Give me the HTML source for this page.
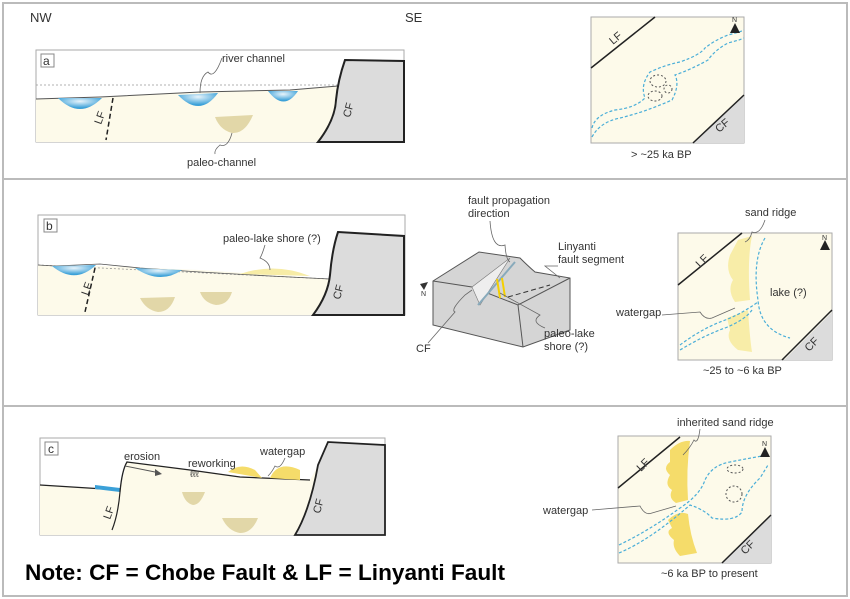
<!DOCTYPE html>
<html><head><meta charset="utf-8"><style>
html,body{margin:0;padding:0;background:#fff}
svg{display:block}
text{font-family:"Liberation Sans",Arial,sans-serif;fill:#333}
</style></head><body>
<svg width="850" height="599" viewBox="0 0 850 599" xmlns="http://www.w3.org/2000/svg">
<defs>
<radialGradient id="w" cx="50%" cy="30%" r="60%"><stop offset="0" stop-color="#e8f4fb"/><stop offset="1" stop-color="#3aa0d8"/></radialGradient>
</defs>
<rect x="3" y="3" width="844" height="593" fill="none" stroke="#bbb" stroke-width="2"/>
<line x1="3" y1="179" x2="847" y2="179" stroke="#bbb" stroke-width="2"/>
<line x1="3" y1="406" x2="847" y2="406" stroke="#bbb" stroke-width="2"/>

<!-- Panel a -->
<text x="30" y="22" font-size="13">NW</text>
<text x="405" y="22" font-size="13">SE</text>
<rect x="36" y="50" width="368" height="92" fill="#fff" stroke="#aaa"/>
<path d="M36,99 L100,97 L200,92 L290,90 L338,86 L346,86 L349,142 L36,142Z" fill="#fdfaea"/>
<line x1="36" y1="85" x2="338" y2="85" stroke="#999" stroke-dasharray="2,2" stroke-width="0.8"/>
<path d="M36,99 L100,97 L200,92 L290,90 L338,86" fill="none" stroke="#555" stroke-width="1"/>
<path d="M58,98 Q80,120 102,98Z" fill="url(#w)"/>
<path d="M178,95 Q200,118 218,93Z" fill="url(#w)"/>
<path d="M268,91 Q284,112 298,91Z" fill="url(#w)"/>
<path d="M215,117 L253,115 Q245,134 232,133 Q220,130 215,117Z" fill="#e2d7a8"/>
<path d="M345,60 L404,61 L404,142 L318,142 Q335,120 336,100 Q338,80 345,60Z" fill="#dcdcdc" stroke="#222" stroke-width="2"/>
<path d="M113,98 L106,140" stroke="#222" stroke-width="1.5" stroke-dasharray="5,3"/>
<text x="0" y="0" font-size="11" transform="translate(101,125) rotate(-70)">LF</text>
<text x="0" y="0" font-size="11" transform="translate(350,118) rotate(-75)">CF</text>
<rect x="41" y="54" width="13" height="13" fill="#fff" stroke="#888"/>
<text x="43" y="65" font-size="12">a</text>
<text x="222" y="62" font-size="11">river channel</text>
<path d="M222,58 Q214,80 208,72 Q200,76 200,93" fill="none" stroke="#666" stroke-width="0.8"/>
<text x="187" y="166" font-size="11">paleo-channel</text>
<path d="M232,133 Q228,148 220,145 Q214,150 215,154" fill="none" stroke="#666" stroke-width="0.8"/>
<!-- map a -->
<rect x="591" y="17" width="153" height="126" fill="#fdfaea" stroke="#aaa"/>
<line x1="591" y1="68" x2="655" y2="17" stroke="#222" stroke-width="1.5"/>
<path d="M693,143 L744,95 L744,143Z" fill="#dcdcdc"/>
<line x1="693" y1="143" x2="744" y2="95" stroke="#222" stroke-width="1.5"/>
<text x="0" y="0" font-size="11" transform="translate(613,45) rotate(-40)">LF</text>
<text x="0" y="0" font-size="11" transform="translate(719,133) rotate(-40)">CF</text>
<path d="M592,128 Q595,115 615,110 Q635,108 645,98 Q640,85 650,72 Q665,65 680,62 Q700,55 705,48 Q715,40 728,35 Q740,32 744,30" fill="none" stroke="#4aaed8" stroke-dasharray="3,2" stroke-width="1.2"/>
<path d="M592,137 Q600,122 620,118 Q645,112 672,100 Q680,85 675,75 Q690,70 708,60 Q715,50 728,43 Q740,40 744,38" fill="none" stroke="#4aaed8" stroke-dasharray="3,2" stroke-width="1.2"/>
<ellipse cx="658" cy="81" rx="8" ry="6" fill="none" stroke="#555" stroke-dasharray="2,2"/>
<ellipse cx="668" cy="89" rx="4" ry="4" fill="none" stroke="#555" stroke-dasharray="2,2"/>
<ellipse cx="655" cy="96" rx="7" ry="5" fill="none" stroke="#555" stroke-dasharray="2,2"/>
<polygon points="735,23 730,33 740,33" fill="#222"/><text x="732" y="22" font-size="7">N</text>
<text x="631" y="158" font-size="11">&gt; ~25 ka BP</text>

<!-- Panel b -->
<rect x="38" y="215" width="367" height="100" fill="#fff" stroke="#aaa"/>
<path d="M38,265 L100,266 L200,270 L330,279 L337,279 L332,315 L38,315Z" fill="#fdfaea"/>
<line x1="38" y1="265" x2="330" y2="279" stroke="#999" stroke-dasharray="2,2" stroke-width="0.8"/>
<path d="M38,265 L55,266 L100,264 L140,268 L200,272 L270,276 L330,279" fill="none" stroke="#555" stroke-width="0.8"/>
<path d="M52,266 Q75,285 96,265Z" fill="url(#w)"/>
<path d="M135,268 Q160,285 182,270Z" fill="url(#w)"/>
<path d="M240,274 Q275,262 310,276Z" fill="#f7eca6"/>
<path d="M140,298 L175,297 Q170,312 158,312 Q146,310 140,298Z" fill="#e2d7a8"/>
<path d="M200,292 L232,292 Q228,305 216,305 Q204,303 200,292Z" fill="#e2d7a8"/>
<path d="M338,232 L404,236 L404,315 L313,315 Q328,295 330,275 Q332,250 338,232Z" fill="#dcdcdc" stroke="#222" stroke-width="2"/>
<path d="M95,268 L85,312" stroke="#222" stroke-width="1.5" stroke-dasharray="5,3"/>
<text x="0" y="0" font-size="11" transform="translate(88,296) rotate(-70)">LF</text>
<text x="0" y="0" font-size="11" transform="translate(340,300) rotate(-75)">CF</text>
<rect x="44" y="219" width="13" height="13" fill="#fff" stroke="#888"/>
<text x="46" y="230" font-size="12">b</text>
<text x="223" y="242" font-size="11">paleo-lake shore (?)</text>
<path d="M265,245 Q262,255 260,258 Q270,262 270,270" fill="none" stroke="#666" stroke-width="0.8"/>
<!-- block diagram -->
<path d="M433,281 L479,252 L520,258 Q528,266 535,272 L570,278 L570,330 L523,347 L433,325Z" fill="#d5d5d5" stroke="#555"/>
<path d="M433,281 L472,287 L518,305 L570,278" fill="none" stroke="#555"/>
<path d="M518,305 L523,347" stroke="#555"/>
<path d="M472,287 L510,258 L480,305Z" fill="#eee" stroke="#777" stroke-width="0.6"/>
<line x1="478" y1="305" x2="515" y2="262" stroke="#8ab" stroke-width="2"/>
<path d="M497,279 L500,298 M502,278 L505,297" stroke="#f5d000" stroke-width="2"/>
<path d="M508,297 L550,285" stroke="#333" stroke-dasharray="5,3"/>
<text x="468" y="204" font-size="11">fault propagation</text>
<text x="468" y="217" font-size="11">direction</text>
<path d="M490,221 Q492,250 505,245 Q506,260 510,262" fill="none" stroke="#666" stroke-width="0.8"/>
<text x="558" y="250" font-size="11">Linyanti</text>
<text x="558" y="263" font-size="11">fault segment</text>
<path d="M558,266 L545,266 Q555,274 560,278" fill="none" stroke="#666" stroke-width="0.8"/>
<text x="544" y="337" font-size="11">paleo-lake</text>
<text x="544" y="350" font-size="11">shore (?)</text>
<path d="M500,293 L540,315 Q530,322 545,328" fill="none" stroke="#666" stroke-width="0.8"/>
<text x="416" y="352" font-size="11">CF</text>
<path d="M428,343 L455,312 Q450,310 465,295 L472,290" fill="none" stroke="#666" stroke-width="0.8"/>
<polygon points="420,284 428,282 424,290" fill="#333"/><text x="421" y="296" font-size="7">N</text>
<!-- map b -->
<rect x="678" y="233" width="154" height="127" fill="#fdfaea" stroke="#aaa"/>
<line x1="678" y1="285" x2="742" y2="233" stroke="#222" stroke-width="1.5"/>
<path d="M784,360 L832,312 L832,360Z" fill="#dcdcdc"/>
<line x1="782" y1="360" x2="832" y2="310" stroke="#222" stroke-width="1.5"/>
<text x="0" y="0" font-size="11" transform="translate(700,268) rotate(-45)">LF</text>
<text x="0" y="0" font-size="11" transform="translate(809,352) rotate(-45)">CF</text>
<path d="M738,240 L752,236 Q747,260 750,300 L735,302 Q727,290 733,280 Q725,270 730,255Z" fill="#f8eda8"/>
<path d="M727,318 L748,310 Q750,340 752,352 L738,350 Q725,340 730,330Z" fill="#f8eda8"/>
<path d="M765,238 Q752,260 758,300 Q760,330 790,338" fill="none" stroke="#4aaed8" stroke-dasharray="3,2" stroke-width="1.2"/>
<path d="M680,345 Q700,330 720,322 Q740,315 758,302" fill="none" stroke="#4aaed8" stroke-dasharray="3,2" stroke-width="1.2"/>
<path d="M680,350 Q705,335 725,328 Q745,320 752,310" fill="none" stroke="#4aaed8" stroke-dasharray="3,2" stroke-width="1.2"/>
<polygon points="825,240 820,250 830,250" fill="#222"/><text x="822" y="240" font-size="7">N</text>
<text x="745" y="216" font-size="11">sand ridge</text>
<path d="M765,220 Q760,235 752,232 Q750,240 745,242" fill="none" stroke="#666" stroke-width="0.8"/>
<text x="770" y="296" font-size="11">lake (?)</text>
<text x="616" y="316" font-size="11">watergap</text>
<path d="M662,315 L700,312 Q705,320 712,318 L735,308" fill="none" stroke="#666" stroke-width="0.8"/>
<text x="703" y="374" font-size="11">~25 to ~6 ka BP</text>

<!-- Panel c -->
<rect x="40" y="438" width="345" height="97" fill="#fff" stroke="#aaa"/>
<path d="M40,485 L120,490 L127,462 L190,470 L240,477 L310,480 L320,462 L303,535 L40,535Z" fill="#fdfaea"/>
<path d="M40,485 L120,490" stroke="#222" stroke-width="1.3"/>
<path d="M95,485 L120,488 L120,492 L95,489Z" fill="#3aa0d8"/>
<path d="M120,492 Q122,470 127,462 L190,470 L240,477 L310,480" fill="none" stroke="#222" stroke-width="1.3"/>
<path d="M120,492 Q118,515 112,530" fill="none" stroke="#222" stroke-width="1.2"/>
<path d="M228,472 Q240,462 255,470 L262,478 Z M270,478 Q278,460 300,470 L300,480Z" fill="#f5dc6a"/>
<path d="M318,465 L328,442 L385,445 L385,535 L295,535 Q310,510 318,465Z" fill="#dcdcdc" stroke="#222" stroke-width="1.8"/>
<path d="M182,492 L205,492 Q200,505 193,505 Q185,503 182,492Z" fill="#e2d7a8"/>
<path d="M222,518 L258,518 Q252,533 240,533 Q228,531 222,518Z" fill="#e2d7a8"/>
<text x="0" y="0" font-size="11" transform="translate(110,520) rotate(-70)">LF</text>
<text x="0" y="0" font-size="11" transform="translate(320,514) rotate(-75)">CF</text>
<rect x="45" y="442" width="13" height="13" fill="#fff" stroke="#888"/>
<text x="48" y="453" font-size="12">c</text>
<text x="124" y="460" font-size="11">erosion</text>
<path d="M125,466 L160,473" stroke="#555" stroke-width="1"/><polygon points="162,474 155,469 155,476" fill="#555"/>
<text x="188" y="467" font-size="11">reworking</text>
<text x="190" y="477" font-size="9">ℓℓℓ</text>
<text x="260" y="455" font-size="11">watergap</text>
<path d="M285,458 Q280,470 275,466 Q272,472 268,476" fill="none" stroke="#666" stroke-width="0.8"/>
<!-- map c -->
<rect x="618" y="436" width="153" height="127" fill="#fdfaea" stroke="#aaa"/>
<line x1="618" y1="488" x2="680" y2="437" stroke="#222" stroke-width="1.5"/>
<path d="M722,563 L771,515 L771,563Z" fill="#dcdcdc"/>
<line x1="722" y1="563" x2="771" y2="515" stroke="#222" stroke-width="1.5"/>
<text x="0" y="0" font-size="11" transform="translate(641,472) rotate(-45)">LF</text>
<text x="0" y="0" font-size="11" transform="translate(745,555) rotate(-45)">CF</text>
<path d="M670,450 Q680,440 690,441 Q686,470 688,500 L676,503 Q668,498 672,490 Q664,485 670,475 Q662,468 670,462Z" fill="#f5dc6a"/>
<path d="M668,520 Q678,510 688,514 Q690,535 697,553 L680,556 Q672,548 674,540 Q664,532 672,528Z" fill="#f5dc6a"/>
<path d="M619,545 Q650,530 680,508 Q700,495 705,480 Q712,465 730,462 Q750,458 768,455" fill="none" stroke="#4aaed8" stroke-dasharray="3,2" stroke-width="1.2"/>
<path d="M619,553 Q650,540 690,505 Q705,510 712,518 Q735,522 742,512 Q742,495 760,478 Q765,470 768,465" fill="none" stroke="#4aaed8" stroke-dasharray="3,2" stroke-width="1.2"/>
<ellipse cx="735" cy="469" rx="8" ry="4" fill="none" stroke="#555" stroke-dasharray="2,2"/>
<ellipse cx="734" cy="494" rx="8" ry="8" fill="none" stroke="#555" stroke-dasharray="2,2"/>
<polygon points="765,447 760,457 770,457" fill="#222"/><text x="762" y="446" font-size="7">N</text>
<text x="677" y="426" font-size="11">inherited sand ridge</text>
<path d="M700,429 Q698,445 694,440 Q690,448 683,455" fill="none" stroke="#666" stroke-width="0.8"/>
<text x="543" y="514" font-size="11">watergap</text>
<path d="M592,510 L640,506 Q645,516 652,513 L676,506" fill="none" stroke="#666" stroke-width="0.8"/>
<text x="661" y="577" font-size="11">~6 ka BP to present</text>

<text x="25" y="580" font-size="22" font-weight="bold" textLength="480" lengthAdjust="spacingAndGlyphs" style="fill:#000">Note: CF = Chobe Fault &amp; LF = Linyanti Fault</text>
</svg>
</body></html>
